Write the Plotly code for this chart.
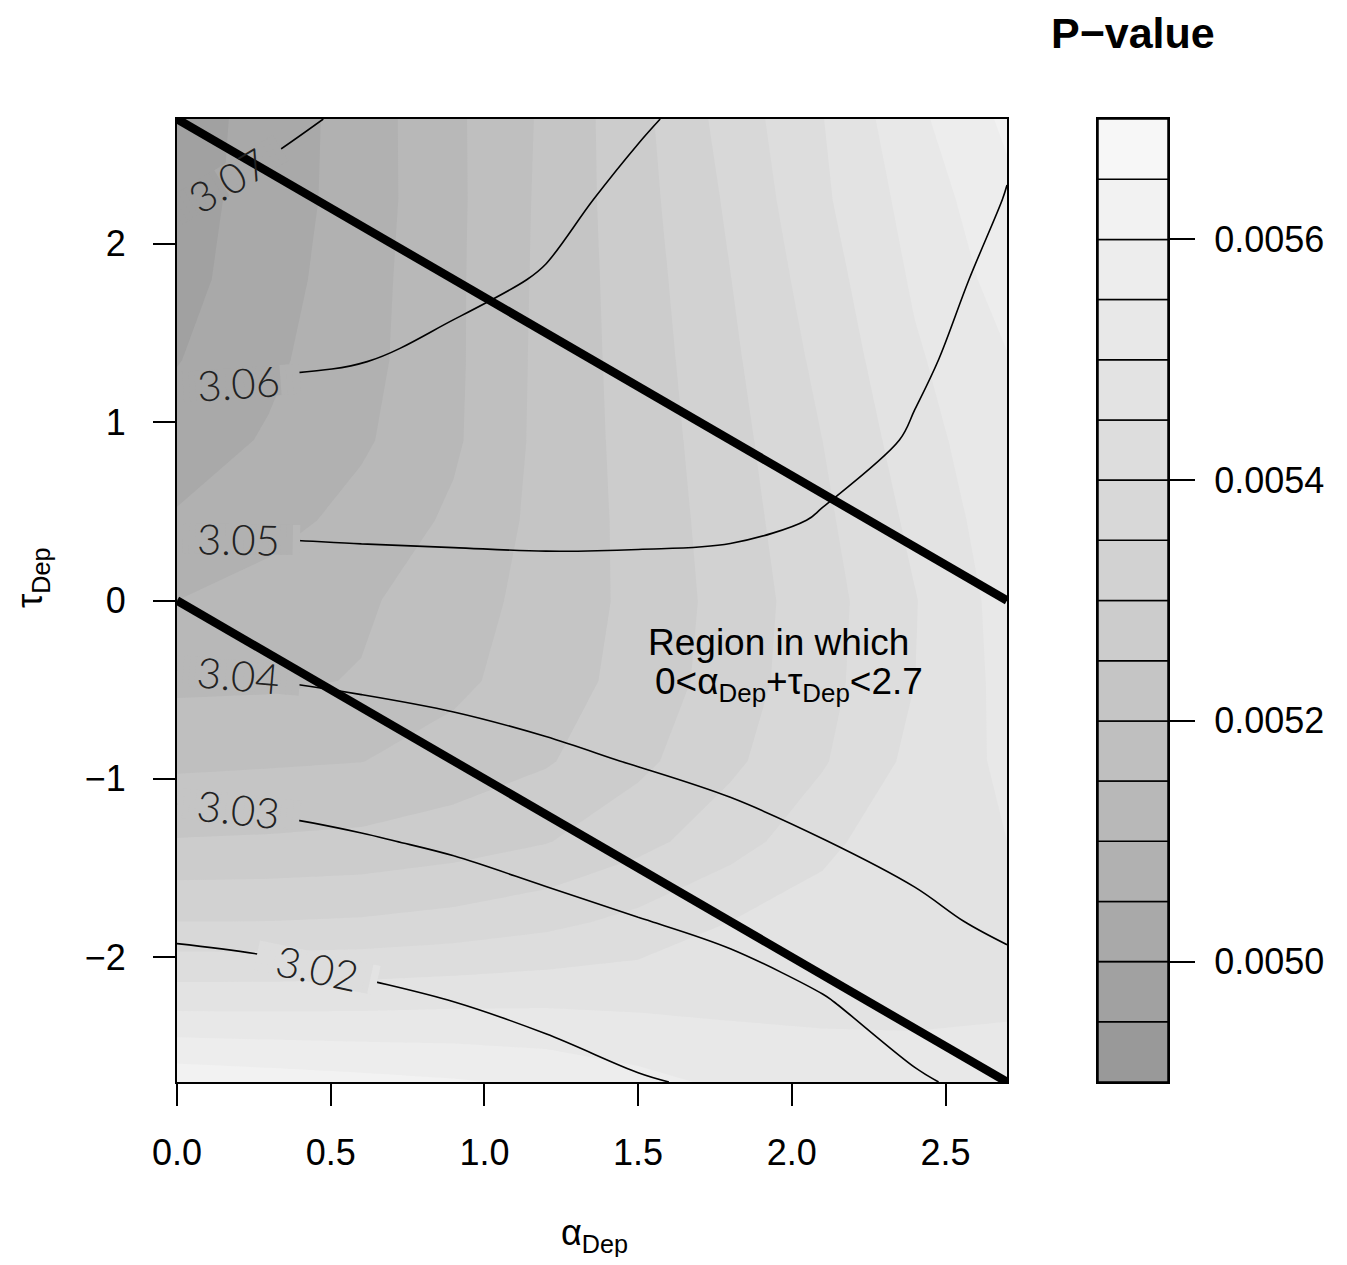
import numpy as np
import plotly.graph_objects as go

# ---------------- data ----------------
alpha_dep = [0.0, 0.3, 0.6, 0.9, 1.2, 1.5, 1.8, 2.1, 2.4, 2.7]
tau_dep = [-2.7, -2.25, -1.8, -1.35, -0.9, -0.45, 0.0, 0.45, 0.9, 1.35, 1.8, 2.25, 2.7]

# P-value grid: one row per tau_dep value (bottom to top), one column per alpha_dep value
p_value = [
    [0.0056350, 0.0056250, 0.0056150, 0.0056050, 0.0055900, 0.0055650, 0.0055400, 0.0055250, 0.0055175, 0.0055150],
    [0.0054825, 0.0054830, 0.0054850, 0.0054900, 0.0054925, 0.0054900, 0.0054875, 0.0054875, 0.0054900, 0.0054950],
    [0.0053500, 0.0053505, 0.0053550, 0.0053665, 0.0053855, 0.0054135, 0.0054500, 0.0054800, 0.0054925, 0.0054950],
    [0.0052525, 0.0052555, 0.0052610, 0.0052755, 0.0052970, 0.0053340, 0.0053790, 0.0054325, 0.0054970, 0.0055000],
    [0.0051900, 0.0051943, 0.0051990, 0.0052200, 0.0052450, 0.0052875, 0.0053395, 0.0053950, 0.0054635, 0.0055100],
    [0.0051390, 0.0051410, 0.0051530, 0.0051885, 0.0052260, 0.0052680, 0.0053240, 0.0053830, 0.0054495, 0.0055150],
    [0.0051000, 0.0051210, 0.0051425, 0.0051770, 0.0052190, 0.0052630, 0.0053200, 0.0053800, 0.0054475, 0.0055200],
    [0.0050550, 0.0050820, 0.0051165, 0.0051585, 0.0052165, 0.0052650, 0.0053260, 0.0053895, 0.0054615, 0.0055300],
    [0.0050250, 0.0050550, 0.0050925, 0.0051420, 0.0052155, 0.0052685, 0.0053325, 0.0054000, 0.0054770, 0.0055400],
    [0.0049975, 0.0050400, 0.0050825, 0.0051400, 0.0052145, 0.0052720, 0.0053405, 0.0054130, 0.0054930, 0.0055475],
    [0.0049825, 0.0050290, 0.0050790, 0.0051400, 0.0052130, 0.0052760, 0.0053490, 0.0054270, 0.0055070, 0.0055700],
    [0.0049775, 0.0050225, 0.0050740, 0.0051390, 0.0052115, 0.0052810, 0.0053585, 0.0054415, 0.0055200, 0.0055875],
    [0.0049750, 0.0050195, 0.0050740, 0.0051400, 0.0052090, 0.0052850, 0.0053705, 0.0054485, 0.0055380, 0.0056100],
]

# second quantity drawn as labelled contour lines (3.02 ... 3.07), same grid
line_value = [
    [3.0100, 3.0107, 3.0128, 3.0144, 3.0167, 3.0194, 3.0212, 3.0240, 3.0292, 3.0323],
    [3.0158, 3.0167, 3.0184, 3.0200, 3.0222, 3.0246, 3.0265, 3.0295, 3.0336, 3.0368],
    [3.0216, 3.0225, 3.0239, 3.0255, 3.0276, 3.0297, 3.0318, 3.0347, 3.0385, 3.0413],
    [3.0273, 3.0281, 3.0294, 3.0310, 3.0331, 3.0354, 3.0371, 3.0399, 3.0420, 3.0422],
    [3.0332, 3.0340, 3.0352, 3.0367, 3.0386, 3.04035, 3.0424, 3.0425, 3.0430, 3.0428],
    [3.0393, 3.0400, 3.0410, 3.0421, 3.0432, 3.0443, 3.0446, 3.0448, 3.0447, 3.0442],
    [3.0453, 3.0458, 3.0464, 3.0471, 3.0476, 3.0479, 3.0478, 3.0472, 3.0460, 3.0450],
    [3.0512, 3.0513, 3.0515, 3.0515, 3.0515, 3.0512, 3.0509, 3.04981, 3.0477, 3.0458],
    [3.0565, 3.0563, 3.0559, 3.0551, 3.0539, 3.0527, 3.0521, 3.0510, 3.0498, 3.0466],
    [3.0615, 3.0609, 3.0602, 3.0586, 3.0567, 3.0547, 3.0537, 3.0523, 3.05033, 3.04905],
    [3.0661, 3.0645, 3.0631, 3.0614, 3.05964, 3.0567, 3.0553, 3.0535, 3.0510, 3.0493],
    [3.0707, 3.0681, 3.0659, 3.0638, 3.0615, 3.0586, 3.0569, 3.0548, 3.0529, 3.04985],
    [3.0750, 3.0717, 3.0688, 3.0661, 3.0633, 3.06063, 3.0580, 3.0560, 3.0540, 3.0507],
]

p_start, p_end, p_step = 0.0049, 0.0057, 0.00005
line_start, line_end, line_step = 3.02, 3.07, 0.01
boundary_sums = [0.0, 2.7]          # alpha + tau = 0 and alpha + tau = 2.7

x_ticks = [0.0, 0.5, 1.0, 1.5, 2.0, 2.5]
x_tick_labels = ["0.0", "0.5", "1.0", "1.5", "2.0", "2.5"]
y_ticks = [-2, -1, 0, 1, 2]
y_tick_labels = ["\u22122", "\u22121", "0", "1", "2"]
key_ticks = [0.0050, 0.0052, 0.0054, 0.0056]
key_tick_labels = ["0.0050", "0.0052", "0.0054", "0.0056"]

# contour-line labels: text, alpha, tau, angle (deg)
contour_labels = [
    ("3.07", 0.165, 2.36, -31),
    ("3.06", 0.200, 1.220, -4),
    ("3.05", 0.200, 0.345, 1),
    ("3.04", 0.200, -0.420, 5),
    ("3.03", 0.200, -1.170, 6),
    ("3.02", 0.456, -2.060, 12),
]

# ---------------- geometry / style ----------------
OFF = 8                              # page body margin
W, H = 1347 - 2 * OFF, 1265 - 2 * OFF
plot_l, plot_r, plot_t, plot_b = 177 - OFF, 1007 - OFF, 119 - OFF, 1082 - OFF
key_l, key_r = 1098 - OFF, 1168 - OFF
FONT = "Liberation Sans, Arial, Helvetica, sans-serif"

n_bins = int(round((p_end - p_start) / p_step))
lv = np.linspace(0.6 ** 2.2, 0.97 ** 2.2, n_bins) ** (1 / 2.2)
band_colors = ["#%02x%02x%02x" % (g, g, g) for g in np.round(lv * 255).astype(int)]
cscale = [[0.0, band_colors[0]]] + \
         [[(i + 1) / (n_bins + 1), c] for i, c in enumerate(band_colors)] + \
         [[1.0, band_colors[-1]]]

xr = [alpha_dep[0], alpha_dep[-1]]
yr = [tau_dep[0], tau_dep[-1]]
ppa = (plot_r - plot_l) / (xr[1] - xr[0])   # px per alpha unit
ppt = (plot_b - plot_t) / (yr[1] - yr[0])   # px per tau unit

P = np.array(p_value)
A = np.array(alpha_dep)
T = np.array(tau_dep)


def p_at(a, t):
    col = [np.interp(a, A, row) for row in P]
    return float(np.interp(t, T, col))


def band_color(a, t):
    i = int((p_at(a, t) - p_start) // p_step)
    return band_colors[max(0, min(n_bins - 1, i))]


fig = go.Figure()

# filled P-value contours
fig.add_trace(go.Contour(
    x=alpha_dep, y=tau_dep, z=p_value, autocontour=False,
    contours=dict(start=p_start, end=p_end + p_step * 1e-3, size=p_step,
                  coloring="fill", showlines=False),
    colorscale=cscale, showscale=False,
    line=dict(width=0, smoothing=0), hoverinfo="skip",
))

# contour lines of the second quantity
fig.add_trace(go.Contour(
    x=alpha_dep, y=tau_dep, z=line_value, autocontour=False,
    contours=dict(start=line_start, end=line_end + line_step * 0.05, size=line_step,
                  coloring="none", showlines=True),
    line=dict(color="black", width=1.6, smoothing=1.0),
    showscale=False, hoverinfo="skip",
))

# label backgrounds (break the thin line under each label, as R does);
# painted in thin strips with the local band colour so they blend in
mask_w, mask_h, n_strips = 122, 30, 20
for text, a, t, ang in contour_labels:
    th = np.deg2rad(ang)
    for k in range(n_strips):
        x0 = -mask_w / 2 + k * mask_w / n_strips - 0.6
        x1 = -mask_w / 2 + (k + 1) * mask_w / n_strips + 0.6
        xs, ys = [], []
        for dx, dy in [(x0, -mask_h / 2), (x1, -mask_h / 2), (x1, mask_h / 2),
                       (x0, mask_h / 2), (x0, -mask_h / 2)]:
            rx = dx * np.cos(th) - dy * np.sin(th)
            ry = dx * np.sin(th) + dy * np.cos(th)
            xs.append(a + rx / ppa)
            ys.append(t - ry / ppt)
        cx = (x0 + x1) / 2
        ca = a + cx * np.cos(th) / ppa
        ct = t - cx * np.sin(th) / ppt
        fig.add_trace(go.Scatter(
            x=xs, y=ys, mode="lines", fill="toself",
            fillcolor=band_color(min(max(ca, xr[0]), xr[1]), ct),
            line=dict(width=0), hoverinfo="skip", showlegend=False,
        ))

# thick boundary lines alpha + tau = const
for s in boundary_sums:
    a0, a1 = max(xr[0], s - yr[1]), min(xr[1], s - yr[0])
    fig.add_trace(go.Scatter(
        x=[a0, a1], y=[s - a0, s - a1], mode="lines",
        line=dict(color="black", width=8.5), hoverinfo="skip", showlegend=False,
    ))

# key (colour legend) drawn as stacked boxes
levels = [p_start + i * p_step for i in range(n_bins)]
fig.add_trace(go.Bar(
    x=[0] * n_bins, y=[p_step] * n_bins, base=levels, width=1,
    marker=dict(color=band_colors, line=dict(color="black", width=1.5)),
    xaxis="x2", yaxis="y2", hoverinfo="skip", showlegend=False,
))

for text, a, t, ang in contour_labels:
    fig.add_annotation(x=a, y=t, xref="x", yref="y", text=text, showarrow=False,
                       xanchor="center", yanchor="middle", textangle=ang,
                       font=dict(family="Lato, " + FONT, size=42, color="#222222", weight=300))

fig.add_annotation(x=1.958, y=-0.237, xref="x", yref="y", text="Region in which",
                   showarrow=False, xanchor="center", yanchor="middle",
                   font=dict(family=FONT, size=37, color="black"))
fig.add_annotation(x=1.99, y=-0.470, xref="x", yref="y",
                   text="0&lt;\u03b1<sub>Dep</sub>+\u03c4<sub>Dep</sub>&lt;2.7",
                   showarrow=False, xanchor="center", yanchor="middle",
                   font=dict(family=FONT, size=37, color="black"))

fig.add_annotation(x=(1133 - OFF) / W, y=1 - (33 - OFF) / H, xref="paper", yref="paper",
                   text="<b>P\u2212value</b>", showarrow=False, xanchor="center", yanchor="middle",
                   font=dict(family=FONT, size=43, color="black"))
fig.add_annotation(x=(594 - OFF) / W, y=1 - (1235 - OFF) / H, xref="paper", yref="paper",
                   text="\u03b1<sub>Dep</sub>", showarrow=False, xanchor="center", yanchor="middle",
                   font=dict(family=FONT, size=36, color="black"))
fig.add_annotation(x=(32 - OFF) / W, y=1 - (578 - OFF) / H, xref="paper", yref="paper",
                   text="\u03c4<sub>Dep</sub>", showarrow=False, textangle=-90,
                   xanchor="center", yanchor="middle",
                   font=dict(family=FONT, size=36, color="black"))

axis_common = dict(showgrid=False, zeroline=False, showline=True, mirror=True, automargin=False,
                   linecolor="black", linewidth=2, ticks="outside", tickcolor="black",
                   tickwidth=1.5, tickfont=dict(family=FONT, size=36, color="black"))

fig.update_layout(
    width=W, height=H, margin=dict(l=0, r=0, t=0, b=0, autoexpand=False),
    paper_bgcolor="white", plot_bgcolor="white", showlegend=False,
    xaxis=dict(domain=[plot_l / W, plot_r / W], range=xr, tickvals=x_ticks,
               ticktext=x_tick_labels, ticklen=22, ticklabelstandoff=16, **axis_common),
    yaxis=dict(domain=[1 - plot_b / H, 1 - plot_t / H], range=yr, tickvals=y_ticks,
               ticktext=y_tick_labels, ticklen=22, ticklabelstandoff=20, **axis_common),
    xaxis2=dict(domain=[key_l / W, key_r / W], range=[-0.5, 0.5], anchor="y2", automargin=False,
                showgrid=False, zeroline=False, showline=True, mirror=True,
                linecolor="black", linewidth=2, showticklabels=False, ticks=""),
    yaxis2=dict(domain=[1 - plot_b / H, 1 - plot_t / H], range=[p_start, p_end], anchor="x2",
                side="right", tickvals=key_ticks, ticktext=key_tick_labels,
                ticklen=25, ticklabelstandoff=12, **axis_common),
)

fig.write_html("out.html")
